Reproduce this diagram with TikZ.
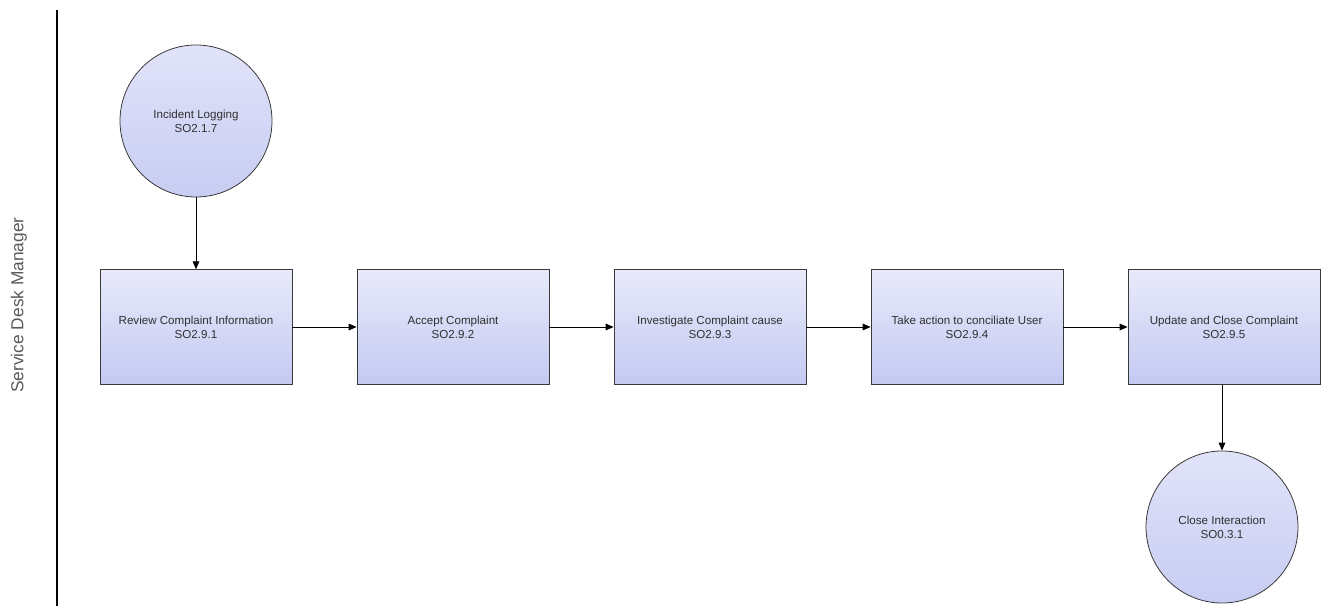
\documentclass[tikz,border=0pt]{standalone}
\usepackage{fontspec}
\setmainfont{Liberation Sans}
\usetikzlibrary{arrows.meta,shapes.geometric}
\definecolor{edgegray}{HTML}{3A3A3A}
\definecolor{shadetop}{HTML}{E8EAFA}
\definecolor{shadebot}{HTML}{C4C9F2}
\definecolor{txtgray}{HTML}{303030}
\tikzset{
  px/.style={x=0.75pt,y=-0.75pt},
  taskbox/.style={draw=edgegray,line width=0.6pt,top color=shadetop,bottom color=shadebot,
    minimum width=144pt,minimum height=86pt,align=center,font=\fontsize{8.7}{10.5}\selectfont,text=txtgray,inner sep=0pt},
  eventcircle/.style={circle,draw=edgegray,line width=0.6pt,top color=shadetop!80!shadebot,bottom color=shadebot!90!shadetop,
    minimum size=114pt,align=center,font=\fontsize{8.7}{10.5}\selectfont,text=txtgray,inner sep=0pt},
  flow/.style={draw=black,line width=0.6pt,-{Triangle[length=6pt,width=5pt]}},
}
\begin{document}
\begin{tikzpicture}[px]
  \useasboundingbox (0,0) rectangle (1322,606);
  % lane separator and lane title
  \coordinate (laneTop) at (57,10);
  \coordinate (laneBot) at (57,606);
  \draw[line width=1pt] (laneTop) -- (laneBot);
  \node[rotate=90,font=\fontsize{13}{15}\selectfont,text=txtgray!80] (lane) at (19,305) {Service Desk Manager};

  % start event
  \node[eventcircle] (start) at (196,121) {Incident Logging\\SO2.1.7};

  % process steps
  \node[taskbox] (t1) at (196,327) {Review Complaint Information\\SO2.9.1};
  \node[taskbox] (t2) at (453,327) {Accept Complaint\\SO2.9.2};
  \node[taskbox] (t3) at (710,327) {Investigate Complaint cause\\SO2.9.3};
  \node[taskbox] (t4) at (967,327) {Take action to conciliate User\\SO2.9.4};
  \node[taskbox] (t5) at (1224,327) {Update and Close Complaint\\SO2.9.5};

  % end event
  \node[eventcircle] (stop) at (1222,527) {Close Interaction\\SO0.3.1};

  % sequence flow
  \draw[flow] (start) -- (t1);
  \draw[flow] (t1) -- (t2);
  \draw[flow] (t2) -- (t3);
  \draw[flow] (t3) -- (t4);
  \draw[flow] (t4) -- (t5);
  \draw[flow] (t5.south -| stop) -- (stop);
\end{tikzpicture}
\end{document}
